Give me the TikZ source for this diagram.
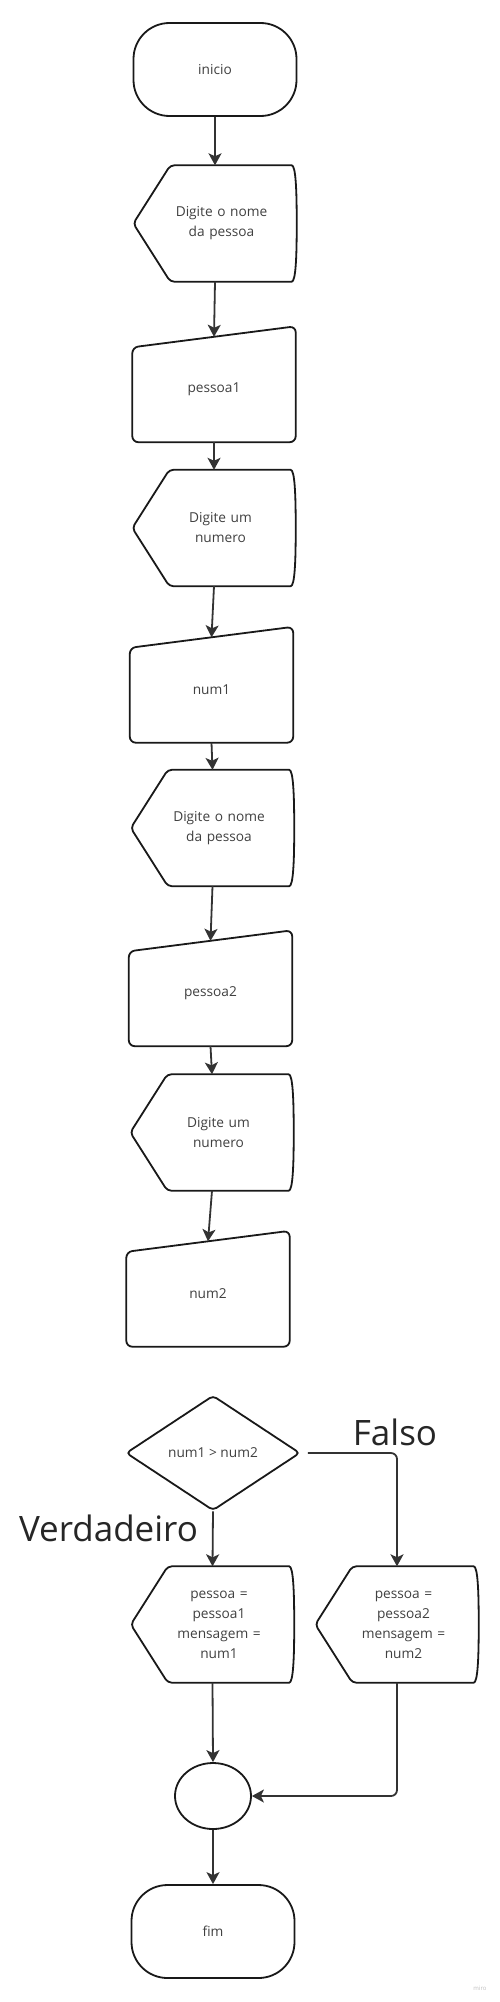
\documentclass[tikz,border=0pt]{standalone}
\usepackage{fontspec}
\setmainfont{Open Sans}
\usetikzlibrary{shapes.geometric, arrows.meta, calc}

\begin{document}
\begin{tikzpicture}[x=1pt, y=1pt,
    every node/.style={font=\fontsize{13.7}{20}\selectfont, text=black!75},
    outl/.style={draw=black!90, line width=1.8pt},
    term/.style={outl, rounded corners=36pt, minimum width=163pt, minimum height=93pt},
    ask/.style={minimum width=163pt, minimum height=116pt, text width=110pt, align=center, inner sep=0pt,
        execute at begin node={\leftskip=13pt plus 1fil\rightskip=0pt plus 1fil},
        append after command={\pgfextra{\draw[outl, rounded corners=4pt]
            (\tikzlastnode.west) -- ($(\tikzlastnode.north west)+(37,0)$) -- ($(\tikzlastnode.north east)+(-9,0)$)
            .. controls ($(\tikzlastnode.north east)+(-1,0)$) and ($(\tikzlastnode.north east)+(0,-25)$) .. (\tikzlastnode.east)
            .. controls ($(\tikzlastnode.south east)+(0,25)$) and ($(\tikzlastnode.south east)+(-1,0)$) .. ($(\tikzlastnode.south east)+(-9,0)$)
            -- ($(\tikzlastnode.south west)+(37,0)$) -- cycle;}}},
    inp/.style={minimum width=163pt, minimum height=105pt, inner sep=0pt,
        append after command={\pgfextra{\draw[outl, rounded corners=6pt]
            ($(\tikzlastnode.north west)+(0,-10.5)$) -- ($(\tikzlastnode.north east)+(0,10.5)$)
            -- (\tikzlastnode.south east) -- (\tikzlastnode.south west) -- cycle;}}},
    dec/.style={outl, diamond, rounded corners=4pt, aspect=1.5, inner sep=0pt, minimum width=174pt, minimum height=115pt},
    mrg/.style={outl, ellipse, minimum width=76pt, minimum height=66pt},
    lbl/.style={font=\fontsize{35}{40}\selectfont, text=black!85},
    n/.style={-{Stealth[length=12pt, width=13pt, inset=3pt]}, line width=1.8pt, draw=black!80}]
    \useasboundingbox (0,0) rectangle (499,-2002);
    % nodes
    \node[term] (ini) at (215,-69.5) {inicio};

    \node[ask] (ask1) at (215,-223.5) {Digite o nome\\da pessoa};
    \node[inp] (inp1) at (214,-389.5) {pessoa1};
    \node[ask] (ask2) at (214,-528) {Digite um\\numero};
    \node[inp] (inp2) at (211.5,-690) {num1};
    \node[ask] (ask3) at (212.5,-828) {Digite o nome\\da pessoa};
    \node[inp] (inp3) at (210.5,-993.5) {pessoa2};
    \node[ask] (ask4) at (212,-1132.5) {Digite um\\numero};
    \node[inp] (inp4) at (208,-1294) {num2};

    \node[dec] (cmp) at (213,-1453) {num1 > num2};
    \node[lbl, anchor=base] (falso) at (395,-1445) {Falso};
    \node[lbl, anchor=base] (verd) at (108.5,-1541) {Verdadeiro};

    \node[ask] (askL) at (212.5,-1624.5) {pessoa =\\pessoa1\\mensagem =\\num1};
    \node[ask] (askR) at (397,-1624.5) {pessoa =\\pessoa2\\mensagem =\\num2};

    \node[mrg] (mrg) at (213,-1796) {};
    \node[term] (fim) at (213,-1931.5) {fim};

    \node[font=\fontsize{6}{7}\selectfont, text=black!25] (miro) at (480,-1988) {miro};
    % edges
    \draw[n] (ini.south) -- (ask1.north);
    \draw[n] (ask1.south) -- (inp1.north);
    \draw[n] (inp1.south) -- (ask2.north);
    \draw[n] (ask2.south) -- (inp2.north);
    \draw[n] (inp2.south) -- (ask3.north);
    \draw[n] (ask3.south) -- (inp3.north);
    \draw[n] (inp3.south) -- (ask4.north);
    \draw[n] (ask4.south) -- (inp4.north);

    \draw[n, rounded corners=6pt, shorten <=7pt] (cmp.east) -| (askR.north);
    \draw[n] (cmp.south) -- (askL.north);
    \draw[n] (askL.south) -- (mrg.north);
    \draw[n, rounded corners=6pt] (askR.south) |- (mrg.east);
    \draw[n] (mrg.south) -- (fim.north);
\end{tikzpicture}
\end{document}
